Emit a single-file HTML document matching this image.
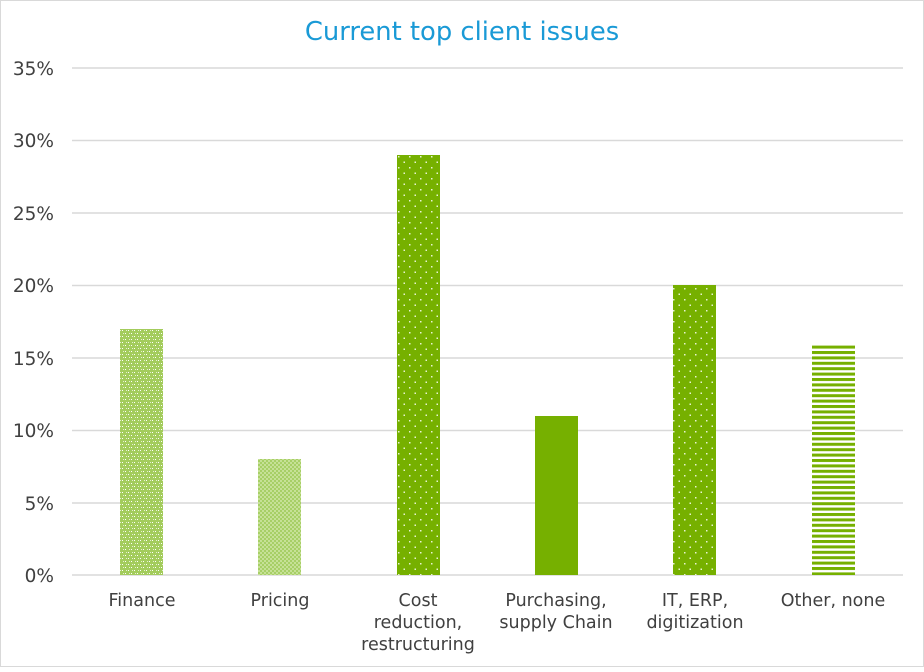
<!DOCTYPE html>
<html><head><style>html,body{margin:0;padding:0;background:#fff}</style></head>
<body>
<svg width="924" height="667" xmlns="http://www.w3.org/2000/svg" font-family="DejaVu Sans, Liberation Sans, sans-serif">
<defs>
<pattern id="p1" width="6" height="6" patternUnits="userSpaceOnUse">
<rect width="6" height="6" fill="#a3cc5c"/><rect x="0" y="0" width="1" height="1" fill="#e4f0cc"/><rect x="3" y="3" width="1" height="1" fill="#e4f0cc"/>
<rect x="2" y="0" width="1" height="1" fill="#fff"/><rect x="5" y="3" width="1" height="1" fill="#fff"/>
</pattern>
<pattern id="p2" width="4" height="4" patternUnits="userSpaceOnUse">
<rect width="4" height="4" fill="#a7cf66"/><rect x="0" y="0" width="2" height="2" fill="#c6e196"/><rect x="2" y="2" width="2" height="2" fill="#c6e196"/>
</pattern>
<pattern id="p3" width="11" height="11" patternUnits="userSpaceOnUse">
<rect width="11" height="11" fill="#76b000"/><rect x="2" y="2" width="1.5" height="1.5" fill="#e8f3d2"/><rect x="7.5" y="7.5" width="1.5" height="1.5" fill="#e8f3d2"/>
</pattern>
<pattern id="p4" width="10" height="5.4" patternUnits="userSpaceOnUse">
<rect width="10" height="5.4" fill="#fff"/><rect y="0" width="10" height="3" fill="#76b000"/>
</pattern>
</defs>
<rect x="0.5" y="0.5" width="923" height="666" fill="#fff" stroke="#d9d9d9"/>
<text x="462" y="40" text-anchor="middle" font-size="25.8" fill="#1a9ad6">Current top client issues</text>
<g stroke="#d9d9d9" stroke-width="1.5">
<line x1="72" x2="903" y1="68" y2="68"/><line x1="72" x2="903" y1="140.5" y2="140.5"/><line x1="72" x2="903" y1="213" y2="213"/><line x1="72" x2="903" y1="285.5" y2="285.5"/><line x1="72" x2="903" y1="358" y2="358"/><line x1="72" x2="903" y1="430.5" y2="430.5"/><line x1="72" x2="903" y1="503" y2="503"/><line x1="72" x2="903" y1="575" y2="575"/>
</g>
<g font-size="18.5" fill="#404040" text-anchor="end">
<text x="54" y="75">35%</text><text x="54" y="147">30%</text><text x="54" y="220">25%</text><text x="54" y="292">20%</text><text x="54" y="365">15%</text><text x="54" y="437">10%</text><text x="54" y="510">5%</text><text x="54" y="582">0%</text>
</g>
<rect x="120" y="329" width="43" height="246" fill="url(#p1)"/>
<rect x="258" y="459" width="43" height="116" fill="url(#p2)"/>
<rect x="397" y="155" width="43" height="420" fill="url(#p3)"/>
<rect x="535" y="416" width="43" height="159" fill="#76b000"/>
<rect x="673" y="285" width="43" height="290" fill="url(#p3)"/>
<rect x="812" y="345" width="43" height="230" fill="url(#p4)"/>
<g font-size="17.5" fill="#404040" text-anchor="middle">
<text x="142" y="606">Finance</text>
<text x="280" y="606">Pricing</text>
<text x="418" y="606">Cost</text><text x="418" y="628">reduction,</text><text x="418" y="650">restructuring</text>
<text x="556" y="606">Purchasing,</text><text x="556" y="628">supply Chain</text>
<text x="695" y="606">IT, ERP,</text><text x="695" y="628">digitization</text>
<text x="833" y="606">Other, none</text>
</g>
</svg>
</body></html>
